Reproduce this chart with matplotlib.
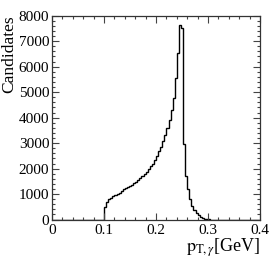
import numpy as np
import matplotlib
matplotlib.use('Agg')
import matplotlib.pyplot as plt
from matplotlib.ticker import MultipleLocator

plt.rcParams['font.family'] = ['Liberation Serif', 'DejaVu Serif']
plt.rcParams['mathtext.fontset'] = 'stix'

# histogram: 100 bins of 0.004 GeV between 0 and 0.4
bin_edges = np.linspace(0.0, 0.4, 101)

# bin contents, starting at 0.100 GeV
signal_counts = [
    480, 700, 800, 860, 910, 950, 990, 1040, 1110, 1190,
    1240, 1280, 1330, 1370, 1420, 1480, 1550, 1620, 1700, 1790,
    1870, 1980, 2090, 2200, 2350, 2500, 2680, 2860, 3080, 3330,
    3600, 3900, 4290, 4790, 5540, 6520, 7650, 7500, 2950, 1700,
    1200, 800, 550, 380, 250, 160, 100, 60, 35, 15, 5,
]
first_bin = 25  # 0.100 / 0.004

counts = np.zeros(100)
counts[first_bin:first_bin + len(signal_counts)] = signal_counts

fig = plt.figure(figsize=(2.74, 2.62), dpi=100)
ax = fig.add_axes([0.19, 0.162, 0.759, 0.778])

ax.stairs(counts, bin_edges, color='black', linewidth=1.0)

ax.set_xlim(0, 0.4)
ax.set_ylim(0, 8000)

ax.xaxis.set_major_locator(MultipleLocator(0.1))
ax.xaxis.set_minor_locator(MultipleLocator(0.02))
ax.yaxis.set_major_locator(MultipleLocator(1000))
ax.yaxis.set_minor_locator(MultipleLocator(200))
ax.set_xticks([0, 0.1, 0.2, 0.3, 0.4])
ax.set_xticklabels(['0', '0.1', '0.2', '0.3', '0.4'])

ax.tick_params(which='both', direction='in', top=True, right=True,
               labelsize=11, width=0.8, color='#444444')
ax.tick_params(which='major', length=5)
ax.tick_params(which='minor', length=2.5)
ax.tick_params(axis='y', pad=2)
ax.tick_params(axis='x', pad=3)
for s in ax.spines.values():
    s.set_linewidth(0.9)
    s.set_color('#333333')

ax.set_ylabel('Candidates', fontsize=12.5, loc='top', labelpad=1)
ax.set_xlabel(r'$\mathrm{p}_{\mathrm{T},\gamma}$[GeV]', fontsize=13, loc='right', labelpad=0)

fig.savefig('out.png', dpi=100)
